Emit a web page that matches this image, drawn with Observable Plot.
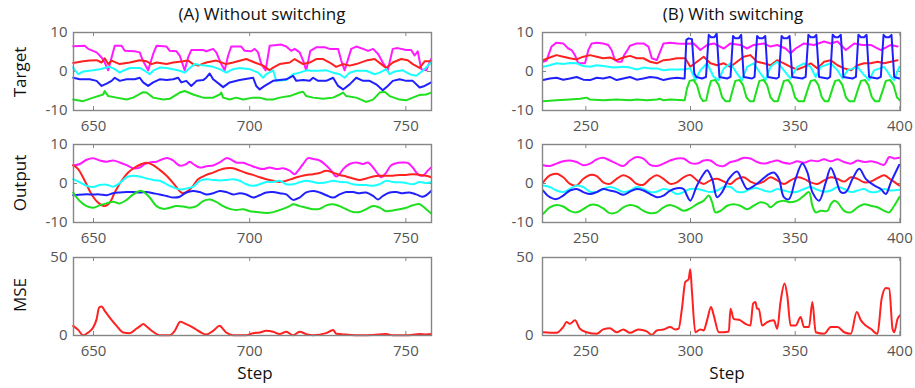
<!DOCTYPE html>
<html><head><meta charset="utf-8">
<script src="https://cdn.jsdelivr.net/npm/d3@7"></script>
<script src="https://cdn.jsdelivr.net/npm/@observablehq/plot@0.6"></script>
<style>
body{margin:0;background:#fff;}
#chart{position:relative;width:915px;height:388px;font-family:"Open Sans",sans-serif;overflow:hidden;background:#fff}
.p{position:absolute}
.t{position:absolute;font-size:17px;color:#111;white-space:nowrap;transform:translate(-50%,-50%)}
.yl{transform:translate(-50%,-50%) rotate(-90deg)}
</style></head><body><div id="chart"></div>
<script>
// ---------- tick labels / categories ----------
const titles = ["(A) Without switching", "(B) With switching"];
const rowLabels = ["Target", "Output", "MSE"];
const xLabel = "Step";
const stepTicksA = [650, 700, 750];
const stepTicksB = [250, 300, 350, 400];
const valueTicks = [-10, 0, 10];
const mseTicks = [0, 50];
const seriesOrder = ["magenta", "red", "cyan", "blue", "green"];

// ---------- (A) Target ----------
const targetA_magenta = [[643.5,6.5],[647.2,6.6],[648.3,5.8],[651,4.9],[652.6,3.6],[653.6,2.3],[654.7,0.3],[655.8,3.6],[656.8,6.6],[659,6.6],[660,5.3],[663.2,5.2],[664.8,4.9],[665.4,3.6],[666.4,1.9],[667.5,0.3],[669.1,4.5],[670.2,6.6],[673.4,6.4],[674.4,5.3],[676.5,5.2],[677.6,4.1],[679.2,0.3],[680.3,3.6],[681.3,5.5],[685.1,5.5],[686.1,5.2],[688.3,5.8],[689.3,4.9],[690.9,1.9],[692,0.3],[693.1,4.1],[694.1,6.4],[697.3,6.4],[698.4,5.3],[700.5,5.2],[701.6,5.8],[702.7,4.9],[703.7,1.9],[705.1,0.3],[706.4,6.6],[710.1,6.9],[711.7,6.4],[713.3,5.3],[714.4,5.8],[716,4.9],[717.1,2.8],[718.1,0.3],[719.4,5.3],[721.3,6.2],[724,6.2],[725.6,5.8],[728.3,5.8],[729.3,2.8],[730.4,0.3],[732.5,5.8],[734.1,6.4],[736.3,5.8],[737.9,5.3],[739.5,5.8],[741.1,4.5],[742.6,2.3],[744.2,0.3],[745.8,5.8],[747.4,6.0],[750.1,5.5],[751.7,5.5],[752.8,4.1],[753.8,5.2],[754.9,0.6],[756.5,0.3],[758.1,3.2]];
const targetA_red = [[643.5,2.2],[646.7,2.6],[648.8,2.8],[651,2.9],[652.6,2.3],[653.6,3.4],[654.7,1.9],[655.8,2.8],[658.4,1.9],[661.6,2.3],[664.8,2.9],[667,2.6],[668.6,1.9],[670.2,2.3],[673.4,1.9],[675.5,2.3],[678.7,2.6],[680.3,2.8],[681.9,1.9],[683.5,1.5],[686.1,2.3],[689.3,2.8],[692.5,1.9],[694.7,2.3],[698.9,3.2],[701.6,2.3],[704.3,1.5],[706.4,0.3],[707.5,1.0],[709.6,1.9],[712.8,2.3],[714.4,3.2],[717.1,1.9],[719.2,2.3],[721.3,3.2],[723.5,3.2],[725.6,2.3],[727.7,1.2],[729.9,1.9],[732,1.5],[734.1,1.9],[737.3,2.8],[740,3.2],[742.1,1.9],[743.7,0.9],[745.8,2.3],[748.5,3.2],[750.6,2.9],[752.2,1.9],[754.4,0.9],[756,2.6],[758.1,2.6]];
const targetA_cyan = [[643.5,1.0],[645.1,-0.7],[646.7,0],[649.9,0.3],[652,0.6],[654.2,1.0],[655.2,1.2],[656.8,0.6],[658.4,-0.3],[659.5,0.2],[661.6,0.9],[664.8,0.9],[666.4,0.2],[668,-0.7],[669.1,0.2],[671.2,1.0],[673.4,0.9],[675.5,0.6],[677.6,0.2],[679.2,-0.3],[680.8,0.9],[682.4,1.9],[684,1.7],[686.1,1.5],[688.3,1.2],[690.4,0.6],[692.5,-0.3],[694.7,0.6],[696.8,0.9],[700,0.6],[702.7,-0.3],[704.3,-1.6],[705.3,-0.7],[707.5,0.3],[708.5,-2.4],[711.7,-2.2],[713.9,-0.7],[716,-0.3],[718.1,0.3],[719.7,0.2],[721.9,0.2],[724.5,0.3],[726.7,-0.3],[728.8,-0.7],[730.4,-1.6],[732,-0.3],[734.1,0.2],[737.3,0.2],[740,-0.7],[741.6,-0.3],[743.7,0.6],[744.8,-0.7],[746.4,0],[749,0.3],[751.2,-0.7],[753.3,-1.1],[755.4,0.2],[758.1,2.3]];
const targetA_blue = [[643.5,-1.6],[645.6,-2.0],[648.8,-2.0],[651,-2.4],[652.6,-3.7],[654.2,-3.1],[655.8,-2.4],[656.8,-1.6],[658.4,-2.4],[660.6,-2.0],[663.2,-2.0],[664.8,-1.6],[665.9,-2.8],[667.5,-3.7],[669.1,-2.8],[671.2,-2.0],[673.4,-2.2],[675.5,-2.0],[677.1,-1.6],[678.1,-2.8],[679.7,-2.4],[681.3,-3.7],[683,-2.4],[685.1,-2.2],[686.1,-1.6],[687.2,-0.5],[688.3,-2.0],[690.4,-3.3],[691.5,-4.0],[693.6,-2.8],[696.8,-2.2],[701.1,-1.6],[702.1,-3.7],[703.2,-4.6],[704.8,-3.7],[707.5,-2.4],[709.6,-2.2],[711.7,-2.0],[713.9,-1.1],[714.9,-2.4],[717.1,-2.2],[719.2,-2.4],[720.3,-1.6],[721.9,-2.4],[724.5,-2.4],[726.7,-1.6],[728.3,-3.7],[729.9,-4.6],[732,-3.3],[734.1,-1.6],[736.3,-2.4],[738.4,-2.4],[740.5,-3.3],[742.6,-4.8],[744.2,-3.7],[745.8,-2.4],[748,-2.0],[750.1,-2.4],[752.2,-2.4],[754.4,-4.1],[756,-3.7],[758.1,-2.8]];
const targetA_green = [[643.5,-7.2],[646.7,-7.6],[649.9,-6.7],[653.1,-5.9],[653.6,-5.0],[654.7,-6.3],[657.4,-6.7],[660.6,-7.2],[662.7,-6.7],[665.9,-5.3],[667,-5.4],[669.1,-6.7],[672.3,-7.2],[674.4,-7.0],[677.6,-5.4],[679.2,-5.0],[681.9,-5.9],[685.1,-6.7],[688.3,-6.7],[690.4,-5.9],[690.9,-5.4],[691.5,-6.7],[693.6,-7.2],[695.7,-6.7],[697.9,-7.2],[701.1,-6.7],[703.2,-6.7],[705.3,-7.2],[707.5,-7.2],[709.6,-6.7],[712.8,-6.3],[716,-5.4],[717.1,-5.2],[718.1,-6.3],[720.3,-6.7],[723.5,-7.0],[726.7,-6.7],[728.8,-5.9],[729.9,-5.4],[730.9,-6.3],[734.1,-6.7],[737.3,-7.8],[739.5,-7.2],[741.6,-5.4],[743.2,-5.2],[744.8,-6.3],[748,-7.2],[750.1,-7.4],[752.2,-6.7],[754.4,-6.0],[756.5,-5.9],[758.1,-5.4]];

// ---------- (A) Output ----------
const outputA_magenta = [[643.5,4.6],[645.6,5.0],[647.8,6.1],[649.9,6.5],[652,5.9],[654.2,5.6],[656.3,5.9],[658.4,5.4],[660.6,4.7],[662.7,3.9],[664.8,4.1],[666.4,5.0],[668,5.4],[670.2,5.6],[672.3,6.3],[673.9,6.5],[675.5,5.9],[677.6,4.6],[679.7,5.0],[680.8,5.6],[681.9,5.0],[684,4.1],[686.1,4.4],[688.3,4.6],[690.4,5.4],[692.5,6.5],[693.6,6.3],[695.7,5.4],[697.9,5.3],[700,4.7],[702.1,4.1],[704.3,3.7],[706.4,4.1],[708.5,3.7],[710.7,3.9],[712.8,3.3],[714.4,2.4],[715.5,3.3],[717.1,5.0],[718.7,6.5],[720.3,6.3],[722.4,5.9],[724.5,4.6],[726.1,3.3],[727.7,1.8],[728.8,2.4],[729.9,3.7],[732,5.0],[734.1,5.4],[736.3,5.0],[737.9,5.4],[739.5,4.1],[741.1,2.4],[742.1,1.6],[743.7,2.8],[745.3,4.7],[747.4,5.3],[749,5.4],[750.6,5.3],[752.2,4.1],[753.8,2.4],[755.4,2.0],[757,3.3],[758.1,4.1]];
const outputA_red = [[643.5,4.7],[645.1,3.7],[647.2,0.7],[649.4,-2.8],[651.5,-4.9],[653.6,-5.8],[655.2,-4.9],[656.8,-2.3],[659,0.7],[661.1,2.8],[663.2,4.1],[665.4,5.0],[667,5.3],[669.1,4.7],[671.2,3.5],[673.4,2.0],[675.5,0.1],[677,-1.4],[678.5,-2.5],[680.3,-1.9],[681.9,-0.6],[683.5,1.1],[686.1,2.2],[688.3,2.8],[690.4,3.5],[692.5,3.9],[694.7,3.9],[696.8,3.3],[698.9,2.7],[701.1,2.2],[703.2,1.6],[705.3,1.1],[707.5,0.7],[709.6,0.4],[711.7,0.7],[713.9,1.3],[716,1.8],[718.1,2.2],[720.3,2.4],[722.4,2.7],[724.5,3.3],[726.7,2.8],[728.8,2.2],[730.9,1.8],[733.1,1.3],[735.2,0.9],[737.3,1.3],[739.5,1.8],[741.6,2.0],[743.7,2.0],[745.8,2.0],[748,2.2],[750.1,2.2],[752.2,2.4],[754.4,2.2],[756.5,2.0],[758.1,1.6]];
const outputA_cyan = [[643.5,1.1],[645.6,0.3],[647.8,-0.6],[649.9,-0.9],[652,-0.4],[654.2,-0.3],[656.3,-0.8],[658.4,0.1],[660.6,1.6],[662.7,2.0],[664.8,1.8],[667,1.3],[669.1,0.9],[671.2,0.7],[673.4,-0.2],[675.5,-1.0],[677.6,-1.5],[679.7,-1.3],[681.9,-0.8],[684,0.7],[686.1,1.1],[688.3,0.9],[690.4,0.8],[692.5,0.9],[694.7,1.1],[696.8,0.7],[698.9,-0.2],[701.1,-0.6],[703.2,-0.2],[705.3,0.4],[707.5,0.4],[709.6,0.7],[711.7,-0.2],[713.9,-0.2],[716,0.3],[718.1,0.7],[720.3,0.4],[722.4,0.1],[724.5,0.3],[726.7,0.7],[728.8,0.4],[730.9,0.3],[733.1,-0.2],[735.2,-0.4],[737.3,-0.4],[739.5,-0.6],[741.6,-0.2],[743.7,0.7],[745.8,0.4],[748,0.3],[750.1,0.1],[752.2,-0.2],[754.4,0.4],[756.5,0.1],[758.1,0.3]];
const outputA_blue = [[643.5,-3.0],[646.7,-2.8],[649.9,-2.8],[652,-2.8],[654.2,-3.0],[656.3,-2.5],[658.4,-2.3],[660.6,-2.2],[662.7,-2.2],[664.8,-2.3],[667,-2.2],[669.1,-2.5],[671.2,-2.8],[673.4,-3.2],[675.5,-3.6],[677.6,-3.4],[679.7,-2.3],[681.9,-1.9],[684,-2.2],[686.1,-2.8],[688.3,-2.5],[690.4,-1.9],[692.5,-2.2],[694.7,-2.8],[696.8,-2.5],[698.9,-2.8],[701.1,-3.6],[703.2,-3.0],[705.3,-2.3],[707.5,-2.2],[709.6,-2.5],[711.7,-2.8],[713.9,-4.2],[716,-3.6],[718.1,-2.3],[720.3,-1.9],[722.4,-2.3],[724.5,-3.0],[726.7,-3.6],[728.8,-2.8],[730.9,-2.2],[733.1,-2.2],[735.2,-2.5],[737.3,-2.3],[739.5,-3.2],[741.1,-4.1],[742.6,-3.2],[744.8,-2.3],[746.9,-2.2],[749,-2.5],[751.2,-2.3],[753.3,-2.8],[755.4,-3.4],[758.1,-1.9]];
const outputA_green = [[643.5,-2.3],[645.6,-4.5],[647.8,-5.8],[649.9,-6.2],[652,-5.6],[654.2,-5.1],[656.3,-4.7],[658.4,-5.1],[660.6,-4.2],[662.7,-2.8],[664.8,-1.9],[665.9,-2.1],[668,-3.6],[670.2,-5.8],[672.3,-6.5],[674.4,-6.2],[676.5,-5.8],[678.7,-5.9],[680.8,-6.2],[683,-5.8],[685.1,-4.5],[687.2,-4.1],[689.3,-4.7],[691.5,-5.8],[693.6,-6.5],[695.7,-6.8],[697.9,-6.6],[700,-7.1],[702.1,-7.3],[704.3,-7.5],[706.4,-7.5],[708.5,-7.1],[710.7,-6.5],[712.8,-5.8],[713.9,-5.3],[716,-5.8],[718.1,-6.2],[720.3,-6.6],[722.4,-6.5],[724.5,-5.6],[726.7,-5.3],[728.8,-5.8],[730.9,-6.6],[733.1,-7.3],[735.2,-7.3],[737.3,-6.6],[739.5,-5.8],[741.6,-6.2],[743.7,-7.1],[745.8,-6.9],[748,-6.6],[750.1,-6.2],[752.2,-5.6],[754.4,-5.3],[756.5,-6.6],[758.1,-7.7]];

// ---------- (A) MSE ----------
const mseA = [[643.5,6.2],[645.1,3.6],[646.7,0.2],[648.3,1.9],[649.9,5.1],[651,10.5],[651.8,17.9],[652.6,18.6],[653.6,15.8],[655.2,11.5],[657.4,6.2],[659.5,1.9],[661.6,1.5],[663.8,4.5],[664.8,5.8],[665.9,7.3],[667,5.8],[669.1,2.4],[671.2,0.2],[674.4,0.2],[676,3.0],[677.8,8.8],[679.7,7.3],[681.9,5.1],[684,2.4],[686.1,0.6],[688.3,3.0],[690.4,6.2],[691.5,4.1],[692.5,1.9],[694.7,0.2],[698.9,0.2],[701.1,1.5],[703.2,1.9],[705.3,3.0],[707.5,2.4],[709.6,0.9],[711.7,2.4],[713.9,0.2],[716,2.4],[718.1,0.9],[720.3,0.2],[724.5,1.5],[726.7,3.6],[727.7,1.1],[730.9,0.6],[735.2,0.2],[739.5,0.4],[743.7,0.9],[745.8,0.2],[750.1,0.2],[754.4,0.9],[756.5,0.6],[758.1,0.9]];

// ---------- (B) Target ----------
const targetB_magenta = [[229.6,2.5],[231.2,2.8],[233.6,6.4],[236,7.4],[239.2,7.2],[241.6,5.9],[243.2,5.5],[244.8,4.2],[246.4,2.1],[248,2.1],[249.6,2.1],[251.2,5.5],[252.8,7.2],[255.2,7.4],[258.3,7.2],[260.7,6.8],[262.3,5.5],[263.9,2.9],[265.5,2.5],[267.1,2.5],[268.3,4.2],[269.9,5.5],[271.1,6.6],[274.3,7.2],[277.5,7.2],[279.9,6.4],[281.5,3.4],[283.9,2.9],[285.8,5.5],[287.1,7.2],[290.3,7.4],[293.5,7.2],[296.7,7.1],[301.5,7.2],[304.7,5.5],[307.9,6.8],[311.1,7.2],[315.9,5.9],[319.1,7.2],[323.8,6.8],[327,5.9],[330.2,6.8],[335,7.2],[338.2,6.4],[341.4,6.8],[345.4,5.9],[347.8,4.7],[350.2,5.9],[354.2,7.2],[359,6.8],[363.8,7.7],[367,7.2],[370.2,7.7],[374.2,5.5],[378.2,7.2],[382.2,6.8],[386.1,6.8],[390.9,5.5],[395.7,6.8],[398.9,6.4]];
const targetB_red = [[229.6,2.9],[232.8,3.6],[236,4.2],[239.2,3.8],[242.4,3.4],[245.6,3.1],[248.8,3.8],[252,4.2],[255.2,3.8],[258.3,3.4],[261.5,3.6],[264.7,2.9],[267.9,3.6],[271.1,4.0],[274.3,3.4],[277.5,3.4],[280.7,2.5],[283.9,2.1],[287.1,2.9],[290.3,3.1],[293.5,3.4],[297.5,3.4],[299.9,1.2],[303.1,2.5],[306.3,3.8],[309.5,2.1],[312.7,1.6],[315.9,2.1],[319.1,1.2],[322.2,2.5],[325.4,3.8],[328.6,4.2],[331.8,2.5],[335,2.1],[338.2,1.6],[341.4,2.9],[344.6,2.1],[347.8,1.2],[351,0.5],[354.2,1.2],[357.4,2.1],[360.6,0.8],[363.8,2.5],[367,2.9],[370.2,1.6],[373.4,0.8],[376.6,0.3],[379.8,1.6],[382.9,2.1],[386.1,2.1],[389.3,2.5],[392.5,2.1],[395.7,2.5],[398.9,2.9]];
const targetB_cyan = [[229.6,1.2],[232.8,1.6],[236,2.1],[239.2,1.9],[242.4,2.2],[245.6,2.1],[248.8,1.4],[252,1.2],[255.2,1.6],[258.3,1.4],[263.1,1.0],[267.9,1.2],[271.1,1.0],[274.3,0.5],[277.5,1.0],[280.7,0.8],[283.9,0.8],[287.1,0.3],[290.3,0.5],[296.7,0.5],[299.9,0.8],[302.3,-2.2],[304.7,0.3],[307.9,2.1],[311.1,-1.4],[313.5,-2.2],[315.9,0.8],[319.1,2.1],[322.2,-0.5],[324.6,-2.2],[327,1.2],[330.2,2.1],[333.4,-0.5],[335.8,-2.2],[338.2,1.2],[341.4,2.5],[344.6,0.3],[347.8,-1.8],[351,1.2],[354.2,2.1],[357.4,1.2],[359.8,-1.4],[362.2,1.2],[367,2.1],[370.2,0.3],[372.6,-1.8],[375,0.3],[379.8,1.2],[382.9,-0.9],[385.3,-2.2],[387.7,0.3],[392.5,1.2],[395.7,-1.4],[397.3,-2.2],[399.7,1.2]];
const targetB_blue = [[229.6,-2.2],[232.8,-1.8],[236,-1.6],[239.2,-2.1],[242.4,-1.8],[245.6,-1.4],[248.8,-2.1],[252,-2.2],[255.2,-1.6],[258.3,-1.8],[261.5,-1.4],[264.7,-2.2],[267.9,-1.8],[271.1,-1.4],[274.3,-2.1],[277.5,-1.8],[280.7,-1.4],[283.9,-1.6],[287.1,-2.2],[290.3,-1.8],[293.5,-1.6],[296.7,-1.8],[297.2,-1.8],[298,8.1],[299.1,8.5],[300.7,8.3],[301.8,-0.5],[302.8,-1.4],[305.5,-1.8],[307.4,-1.4],[308.7,9.4],[309.8,8.8],[311.4,8.8],[312.5,9.7],[313.8,-1.4],[317.5,-1.8],[319.1,-1.4],[320.3,9.1],[321.4,8.5],[323,8.5],[324.2,9.4],[325.4,-1.4],[329.4,-1.8],[330.6,-1.4],[331.8,9.1],[332.9,8.5],[334.5,8.5],[335.7,9.1],[336.9,-1.4],[341.1,-1.8],[342.2,-1.4],[343.5,9.1],[344.6,8.5],[346.2,8.5],[347.3,9.1],[348.6,-1.4],[353.4,-1.8],[355,-1.4],[356.3,9.4],[357.4,8.8],[359,8.8],[360.1,9.4],[361.4,-1.4],[365.4,-1.8],[366.7,-1.4],[367.9,9.4],[369.1,8.8],[370.6,8.8],[371.8,9.4],[373,-1.4],[377.4,-1.8],[379,-1.4],[380.2,9.4],[381.4,8.8],[382.9,8.8],[384.1,9.4],[385.3,-1.4],[389.3,-1.8],[390.9,-1.4],[392.2,9.4],[393.3,8.8],[394.9,8.8],[396,9.4],[397.3,-1.4],[399.7,-1.8]];
const targetB_green = [[229.6,-7.6],[236,-7.4],[242.4,-7.2],[247.2,-7.0],[250.4,-6.7],[252,-7.2],[258.3,-7.4],[264.7,-7.2],[271.1,-7.4],[274.3,-7.2],[279.1,-7.4],[283.9,-7.2],[285.5,-7.0],[287.1,-7.4],[290.3,-7.2],[296.7,-7.4],[297.2,-7.4],[298.3,-4.4],[299.6,-2.4],[301.5,-2.2],[303.1,-3.5],[304.7,-6.6],[306,-7.6],[307.5,-7.4],[308.7,-4.4],[309.8,-2.4],[311.9,-2.2],[313.5,-3.5],[315.1,-6.6],[316.7,-7.6],[318.7,-7.6],[320.3,-4.4],[321.4,-2.4],[323.5,-2.2],[325.1,-3.5],[326.7,-6.6],[328.3,-7.6],[330.2,-7.6],[331.8,-4.4],[332.9,-2.4],[335,-2.2],[336.6,-3.5],[338.2,-6.6],[339.8,-7.6],[341.7,-7.6],[343.5,-4.4],[344.6,-2.4],[346.7,-2.2],[348.3,-3.5],[349.9,-6.6],[351.5,-7.6],[354.2,-7.6],[356.1,-4.4],[357.4,-2.4],[359.5,-2.2],[361.1,-3.5],[362.7,-6.6],[364.1,-7.6],[365.9,-7.6],[367.8,-4.4],[369.1,-2.4],[371,-2.2],[372.6,-3.5],[374.2,-6.6],[375.8,-7.6],[378.2,-7.6],[380.1,-4.4],[381.4,-2.4],[383.4,-2.2],[385,-3.5],[386.6,-6.6],[388.1,-7.6],[390.1,-7.6],[392.1,-4.4],[393.3,-2.4],[395.4,-2.2],[397,-3.5],[398.6,-6.6],[400,-7.4]];

// ---------- (B) Output ----------
const outputB_magenta = [[229.6,4.7],[232.8,4.5],[236,5.1],[239.2,5.7],[242.4,5.9],[245.6,5.5],[248.8,4.7],[252,5.1],[255.2,6.2],[258.3,6.6],[261.5,5.9],[264.7,5.1],[267.9,4.5],[271.1,5.9],[274.3,6.8],[277.5,6.4],[280.7,4.8],[283.9,4.5],[287.1,5.1],[290.3,5.9],[293.5,6.4],[296.7,6.4],[299.9,5.3],[303.1,5.1],[306.3,5.9],[309.5,5.9],[312.7,4.7],[315.9,4.5],[319.1,5.5],[322.2,5.9],[325.4,6.6],[328.6,6.4],[331.8,5.5],[335,5.1],[338.2,5.5],[341.4,5.9],[344.6,5.3],[347.8,5.1],[351,5.7],[354.2,5.3],[357.4,5.9],[360.6,5.7],[363.8,6.2],[367,5.7],[370.2,6.2],[373.4,5.5],[376.6,5.1],[379.8,5.9],[382.9,5.5],[386.1,5.7],[389.3,5.3],[392.5,4.8],[394.9,6.8],[397.3,6.4],[399.7,6.6]];
const outputB_red = [[229.6,0.3],[232.8,2.1],[236,2.5],[239.2,1.6],[242.4,-0.1],[245.6,-0.5],[248.8,1.2],[252,2.2],[255.2,1.9],[258.3,0.3],[261.5,-0.1],[264.7,1.2],[267.9,2.1],[271.1,1.4],[274.3,-0.1],[277.5,-0.3],[280.7,1.2],[283.9,2.1],[287.1,1.2],[290.3,-0.1],[293.5,0.3],[296.7,1.6],[299.9,2.2],[303.1,0.8],[306.3,-0.1],[309.5,0.8],[312.7,1.2],[315.9,0.5],[319.1,-0.1],[322.2,1.2],[325.4,1.6],[328.6,0.5],[331.8,-0.1],[335,0.5],[338.2,1.6],[341.4,0.8],[344.6,-0.1],[347.8,0.8],[351,1.6],[354.2,1.2],[357.4,0.3],[360.6,-0.1],[363.8,0.8],[367,1.6],[370.2,1.2],[373.4,0.5],[376.6,1.6],[379.8,1.2],[382.9,0.3],[386.1,0.5],[389.3,1.4],[392.5,2.1],[395.7,1.0],[399.7,-0.5]];
const outputB_cyan = [[229.6,-0.5],[232.8,-0.9],[236,-1.8],[239.2,-2.2],[242.4,-1.4],[245.6,-0.5],[248.8,-0.9],[252,-2.1],[255.2,-2.2],[258.3,-1.4],[261.5,-0.9],[264.7,-1.4],[267.9,-2.2],[271.1,-1.8],[274.3,-0.9],[277.5,-1.4],[280.7,-2.2],[283.9,-2.1],[287.1,-1.4],[290.3,-1.8],[293.5,-2.7],[296.7,-2.2],[299.9,-1.4],[303.1,-1.4],[306.3,-1.8],[309.5,-2.2],[312.7,-1.8],[315.9,-0.9],[319.1,-0.9],[322.2,-2.1],[325.4,-2.2],[328.6,-1.4],[331.8,-1.2],[335,-1.8],[338.2,-2.1],[341.4,-1.4],[344.6,-1.8],[347.8,-2.2],[351,-2.1],[354.2,-1.4],[357.4,-0.9],[360.6,-1.6],[363.8,-2.1],[367,-1.8],[370.2,-0.9],[373.4,-1.4],[376.6,-2.2],[379.8,-1.8],[382.9,-1.4],[386.1,-2.2],[389.3,-2.1],[392.5,-1.4],[395.7,-1.8],[399.7,-1.6]];
const outputB_blue = [[229.6,-1.8],[232.8,-3.5],[236,-4.0],[239.2,-3.1],[242.4,-1.8],[245.6,-1.4],[248.8,-2.2],[252,-2.7],[255.2,-2.2],[258.3,-1.4],[261.5,-1.8],[264.7,-2.2],[267.9,-2.9],[271.1,-2.1],[274.3,-1.4],[277.5,-1.8],[280.7,-2.7],[283.9,-3.5],[287.1,-3.1],[290.3,-1.8],[293.5,-1.2],[296.7,-1.4],[298.3,-3.1],[299.9,-4.4],[303.1,-0.5],[306.3,2.5],[307.9,3.4],[310.3,1.2],[312.7,-3.5],[315.1,-2.2],[318.3,1.2],[322.2,3.1],[324.6,0.8],[327,-1.4],[329.4,-0.9],[332.6,0.3],[336.6,2.1],[339.8,2.8],[342.2,1.2],[344.6,-3.5],[347,-4.0],[350.2,1.2],[353.4,5.1],[355.8,2.9],[358.2,-2.2],[361.4,-4.4],[364.6,0.3],[367,4.0],[369.4,1.2],[371.8,-2.2],[374.2,-2.2],[377.4,1.2],[380.6,3.8],[383.7,1.2],[387.7,-0.5],[390.9,-1.4],[393.3,-2.7],[395.7,0.3],[399.7,4.8]];
const outputB_green = [[229.6,-7.8],[232.8,-6.1],[236,-5.5],[239.2,-5.9],[242.4,-7.0],[245.6,-7.4],[248.8,-6.6],[252,-5.5],[255.2,-5.5],[258.3,-6.4],[261.5,-7.6],[264.7,-7.4],[267.9,-6.1],[271.1,-5.5],[274.3,-5.9],[277.5,-7.0],[280.7,-7.6],[283.9,-7.4],[287.1,-6.1],[290.3,-5.5],[293.5,-6.1],[296.7,-7.0],[299.9,-6.4],[303.1,-5.3],[306.3,-4.4],[308.7,-3.1],[310.3,-4.8],[311.9,-7.4],[314.3,-7.0],[317.5,-5.7],[320.6,-5.3],[323.8,-5.7],[327,-6.6],[330.2,-5.7],[333.4,-4.8],[336.6,-5.3],[338.2,-6.1],[341.4,-4.8],[344.6,-4.4],[347.8,-4.8],[351,-4.4],[354.2,-3.1],[356.6,-2.2],[358.2,-5.7],[359.8,-7.4],[362.2,-7.0],[365.4,-7.0],[367,-5.3],[368.6,-4.4],[370.2,-4.8],[373.4,-7.0],[376.6,-7.4],[379.8,-6.1],[382.9,-5.3],[386.1,-5.7],[389.3,-6.1],[392.5,-7.0],[394.9,-7.4],[397.3,-5.7],[399.7,-3.5]];

// ---------- (B) MSE ----------
const mseB = [[229.6,2.1],[236,1.7],[239.2,5.4],[240.8,8.6],[242.4,7.5],[244.8,9.7],[247.2,4.3],[250.4,2.1],[255.2,1.1],[258.3,3.9],[261.5,4.7],[264.7,2.1],[267.9,3.9],[271.1,1.7],[275.1,3.9],[279.1,2.6],[281.5,0.4],[283.9,3.2],[287.1,3.9],[290.3,5.4],[292.7,3.9],[294.3,4.3],[295.9,17.2],[297.5,34.3],[299.1,36.1],[299.9,42.5],[300.7,27.9],[302.3,2.1],[304.7,3.9],[306.3,3.2],[307.9,9.7],[309.8,18.2],[311.1,12.9],[313.5,2.1],[315.9,2.1],[318.3,2.6],[319.1,17.2],[320.6,10.7],[323.8,9.7],[326.2,7.5],[328.6,6.4],[329.9,20.4],[331,21.5],[331.8,17.2],[332.6,17.2],[334.2,6.4],[336.6,8.6],[339.8,9.7],[341.4,4.3],[343,21.5],[344.9,33.3],[346.2,25.8],[347.8,6.4],[350.2,6.4],[352.6,11.8],[354.2,5.4],[356.6,5.4],[358.2,21.5],[359.8,2.1],[363.8,1.1],[367,5.4],[370.2,5.4],[373.4,2.1],[376.6,1.1],[379.4,15.0],[381.4,9.7],[383.7,6.4],[386.1,4.3],[389.3,1.1],[391.3,23.6],[393.3,30.5],[394.9,30.0],[396.5,4.3],[397.3,2.1],[398.9,10.7],[400,12.9]];

// ---------- styling ----------
const colorOf = {magenta: "#ff1aff", red: "#ff2020", cyan: "#1affff", blue: "#2020ff", green: "#1ee01e"};
const frameGray = "#858585";

const chart = document.getElementById("chart");

function panel({series, curve, xDomain, xTicks, yDomain, yTicks, left, top, width, height, mt, mb, ml, mr, yPad}) {
  const innerH = height - mt - mb, innerW = width - ml - mr;
  const marks = [
    Plot.tickX(xTicks, {x: d => d, stroke: frameGray, strokeWidth: 1, insetTop: innerH - 4}),
    Plot.tickX(xTicks, {x: d => d, stroke: frameGray, strokeWidth: 1, insetBottom: innerH - 4}),
    Plot.tickY(yTicks, {y: d => d, stroke: frameGray, strokeWidth: 1, insetRight: innerW - 4}),
    Plot.tickY(yTicks, {y: d => d, stroke: frameGray, strokeWidth: 1, insetLeft: innerW - 4})
  ];
  for (const s of series) {
    marks.push(Plot.line(s.data, {x: d => d[0], y: d => d[1], stroke: colorOf[s.name], strokeWidth: 2, curve}));
  }
  marks.push(Plot.frame({stroke: frameGray, strokeWidth: 1.4}));
  const svg = Plot.plot({
    width, height,
    marginTop: mt, marginBottom: mb, marginLeft: ml, marginRight: mr,
    x: {domain: xDomain, ticks: xTicks, tickSize: 0, tickPadding: 10, label: null, tickFormat: d => String(d)},
    y: {domain: yDomain, ticks: yTicks, tickSize: 0, tickPadding: yPad, label: null, tickFormat: d => String(d)},
    style: {fontSize: "15px", fontFamily: "'Open Sans', sans-serif", color: "#555", background: "transparent", overflow: "visible"},
    marks
  });
  svg.classList.add("p");
  svg.style.left = left + "px";
  svg.style.top = top + "px";
  chart.appendChild(svg);
}

const rows = [
  {top: 0, height: 134, mt: 32, mb: 24, yDomain: [-10, 10], yTicks: valueTicks, curve: "linear"},
  {top: 134, height: 110, mt: 10, mb: 22, yDomain: [-10, 10], yTicks: valueTicks, curve: "catmull-rom"},
  {top: 244, height: 144, mt: 13, mb: 53, yDomain: [0, 50], yTicks: mseTicks, curve: "monotone-x"}
];
const colA = {left: 0, width: 440, ml: 73, mr: 9, xDomain: [643.6, 758.2], xTicks: stepTicksA, yPad: 6};
const colB = {left: 460, width: 455, ml: 82, mr: 15, xDomain: [229.3, 400.3], xTicks: stepTicksB, yPad: 9};

const panelSeries = [
  [
    [{name: "magenta", data: targetA_magenta}, {name: "red", data: targetA_red}, {name: "cyan", data: targetA_cyan}, {name: "blue", data: targetA_blue}, {name: "green", data: targetA_green}],
    [{name: "magenta", data: targetB_magenta}, {name: "red", data: targetB_red}, {name: "cyan", data: targetB_cyan}, {name: "blue", data: targetB_blue}, {name: "green", data: targetB_green}]
  ],
  [
    [{name: "magenta", data: outputA_magenta}, {name: "red", data: outputA_red}, {name: "cyan", data: outputA_cyan}, {name: "blue", data: outputA_blue}, {name: "green", data: outputA_green}],
    [{name: "magenta", data: outputB_magenta}, {name: "red", data: outputB_red}, {name: "cyan", data: outputB_cyan}, {name: "blue", data: outputB_blue}, {name: "green", data: outputB_green}]
  ],
  [
    [{name: "red", data: mseA}],
    [{name: "red", data: mseB}]
  ]
];

rows.forEach((r, i) => {
  [colA, colB].forEach((c, j) => {
    panel({series: panelSeries[i][j], curve: r.curve, xDomain: c.xDomain, xTicks: c.xTicks, yDomain: r.yDomain, yTicks: r.yTicks,
      left: c.left, top: r.top, width: c.width, height: r.height, mt: r.mt, mb: r.mb, ml: c.ml, mr: c.mr, yPad: c.yPad});
  });
});

function addText(txt, x, y, cls) {
  const d = document.createElement("div");
  d.className = "t" + (cls ? " " + cls : "");
  d.style.left = x + "px";
  d.style.top = y + "px";
  d.textContent = txt;
  chart.appendChild(d);
}
addText(titles[0], 262, 13);
addText(titles[1], 733, 13);
addText(rowLabels[0], 19, 72, "yl");
addText(rowLabels[1], 19, 183, "yl");
addText(rowLabels[2], 19, 295, "yl");
addText(xLabel, 255, 372);
addText(xLabel, 727, 372);
</script></body></html>
